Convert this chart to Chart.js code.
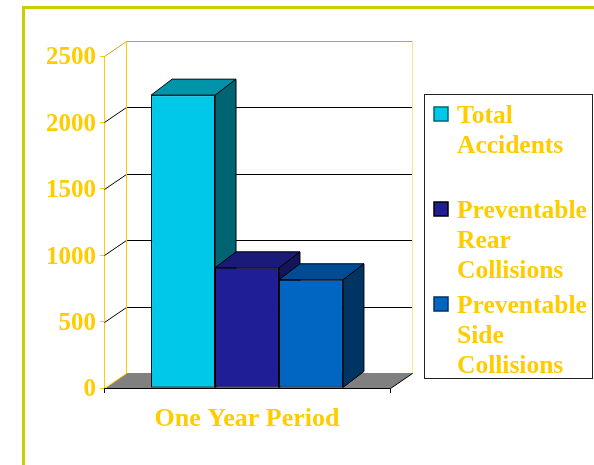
<!DOCTYPE html>
<html>
<head>
<meta charset="utf-8">
<script src="https://cdn.jsdelivr.net/npm/chart.js@4.4.0/dist/chart.umd.min.js"></script>
<style>
  html, body { margin: 0; padding: 0; background: #fff; }
</style>
</head>
<body>
<canvas id="myChart" width="594" height="465"></canvas>
<script>
var categories = ['One Year Period'];
var seriesNames = ['Total Accidents', 'Preventable Rear Collisions', 'Preventable Side Collisions'];
var totalAccidents = [2205];
var rearCollisions = [905];
var sideCollisions = [815];
var yTicks = [0, 500, 1000, 1500, 2000, 2500];

var frontColors = ['#00c8e8', '#201e96', '#0066c2'];
var topColors = ['#0094aa', '#1a1a78', '#004c94'];
var sideColors = ['#006472', '#14145a', '#003462'];
var swatchBorders = ['#006472', '#000000', '#003462'];
var gold = '#ffcc00';
var serif = "'Liberation Serif', 'Times New Roman', serif";

// 3d offsets: walls and bars
var wall = { dx: 22, dy: -15 };
var bar = { dx: 21, dy: -16 };

function line(ctx, pts, color) {
  ctx.strokeStyle = color;
  ctx.beginPath();
  ctx.moveTo(pts[0][0], pts[0][1]);
  for (var i = 1; i < pts.length; i++) ctx.lineTo(pts[i][0], pts[i][1]);
  ctx.stroke();
}
function poly(ctx, pts, fill, stroke) {
  ctx.beginPath();
  ctx.moveTo(pts[0][0], pts[0][1]);
  for (var i = 1; i < pts.length; i++) ctx.lineTo(pts[i][0], pts[i][1]);
  ctx.closePath();
  ctx.fillStyle = fill;
  ctx.fill();
  if (stroke) { ctx.strokeStyle = stroke; ctx.stroke(); }
}

var threeD = {
  id: 'threeD',
  beforeDatasetsDraw: function (chart) {
    var ctx = chart.ctx, a = chart.chartArea, ys = chart.scales.y;
    var L = a.left + 0.5, R = a.right + 0.5, T = Math.round(a.top) + 0.5, B = Math.round(a.bottom) + 0.5;
    var dx = wall.dx, dy = wall.dy;
    ctx.save();
    ctx.lineWidth = 1;
    // back wall gridlines and side wall diagonals
    yTicks.forEach(function (v) {
      if (v === ys.min || v === ys.max) return;
      var py = Math.round(ys.getPixelForValue(v)) + 0.5;
      line(ctx, [[L, py], [L + dx, py + dy], [R + dx, py + dy]], '#000');
    });
    // wall frame
    line(ctx, [[L, T], [L + dx, T + dy], [R + dx, T + dy]], '#c8a428');
    line(ctx, [[L + dx, T + dy], [L + dx, B + dy]], gold);
    line(ctx, [[R + dx, T + dy], [R + dx, B + dy]], '#ffe38a');
    // floor
    poly(ctx, [[L, B], [R, B], [R + dx, B + dy], [L + dx, B + dy]], '#808080');
    line(ctx, [[L + dx, B + dy], [R + dx, B + dy]], '#a08420');
    line(ctx, [[R, B], [R + dx, B + dy]], '#000');
    line(ctx, [[L, B], [L + dx, B + dy]], gold);
    // bar sides and tops
    chart.data.datasets.forEach(function (ds, i) {
      var el = chart.getDatasetMeta(i).data[0];
      var p = el.getProps(['x', 'y', 'base', 'width'], true);
      var l = p.x - p.width / 2, r = p.x + p.width / 2, t = p.y, b = p.base;
      poly(ctx, [[r, t], [r + bar.dx, t + bar.dy], [r + bar.dx, b + bar.dy], [r, b]], sideColors[i], '#000');
      poly(ctx, [[l, t], [l + bar.dx, t + bar.dy], [r + bar.dx, t + bar.dy], [r, t]], topColors[i], '#000');
    });
    ctx.restore();
  },
  afterDatasetsDraw: function (chart) {
    var ctx = chart.ctx, a = chart.chartArea;
    var B = Math.round(a.bottom) + 0.5;
    ctx.save();
    ctx.lineWidth = 1;
    line(ctx, [[a.left, B], [a.right, B]], '#000');
    ctx.restore();
  },
  afterDraw: function (chart) {
    var ctx = chart.ctx;
    ctx.save();
    // legend box
    var bx = 424.5, by = 94.5, bw = 168, bh = 284;
    ctx.fillStyle = '#fff';
    ctx.fillRect(bx, by, bw, bh);
    ctx.lineWidth = 1;
    ctx.strokeStyle = '#222';
    ctx.strokeRect(bx, by, bw, bh);
    ctx.font = 'bold 25.5px ' + serif;
    ctx.textBaseline = 'alphabetic';
    ctx.textAlign = 'left';
    var textX = 457, maxW = 134, lineH = 30, step = 95, base0 = 123;
    chart.data.datasets.forEach(function (ds, i) {
      var baseY = base0 + i * step;
      ctx.fillStyle = frontColors[i];
      ctx.fillRect(434, baseY - 16, 14, 14);
      ctx.strokeStyle = swatchBorders[i];
      ctx.lineWidth = 1.5;
      ctx.strokeRect(434, baseY - 16, 14, 14);
      // word wrap
      var words = ds.label.split(' '), lines = [], cur = '';
      words.forEach(function (w) {
        var test = cur ? cur + ' ' + w : w;
        if (ctx.measureText(test).width > maxW && cur) { lines.push(cur); cur = w; }
        else cur = test;
      });
      lines.push(cur);
      ctx.fillStyle = gold;
      lines.forEach(function (t, k) { ctx.fillText(t, textX, baseY + k * lineH); });
    });
    // outer frame
    ctx.strokeStyle = '#cccc00';
    ctx.lineWidth = 3;
    ctx.beginPath();
    ctx.moveTo(23.5, 465);
    ctx.lineTo(23.5, 7.5);
    ctx.lineTo(594, 7.5);
    ctx.stroke();
    ctx.restore();
  }
};

var series = [totalAccidents, rearCollisions, sideCollisions];

var ctx = document.getElementById('myChart').getContext('2d');
var myChart = new Chart(ctx, {
  type: 'bar',
  data: {
    labels: categories,
    datasets: series.map(function (vals, i) {
      return {
        label: seriesNames[i],
        data: vals,
        backgroundColor: frontColors[i],
        borderColor: '#000',
        borderWidth: 1,
        borderSkipped: false
      };
    })
  },
  options: {
    responsive: false,
    animation: false,
    layout: { padding: { left: 0, right: 204, top: 56, bottom: 0 } },
    datasets: { bar: { categoryPercentage: 0.671, barPercentage: 1 } },
    scales: {
      x: {
        grid: { color: '#000', drawOnChartArea: false, tickLength: 5 },
        border: { color: '#000' },
        ticks: { color: gold, font: { family: serif, size: 26, weight: 'bold' }, padding: 11 },
        afterFit: function (s) { s.height = 77; }
      },
      y: {
        min: 0,
        max: 2500,
        afterBuildTicks: function (s) { s.ticks = yTicks.map(function (v) { return { value: v }; }); },
        grid: { color: gold, drawOnChartArea: false, tickLength: 4 },
        border: { color: gold },
        ticks: {
          color: gold,
          font: { family: serif, size: 25, weight: 'bold' },
          padding: 4,
          labelOffset: 2,
          callback: function (v) { return String(v); }
        },
        afterFit: function (s) { s.width = 104; }
      }
    },
    plugins: {
      legend: { display: false },
      tooltip: { enabled: false }
    }
  },
  plugins: [threeD]
});
</script>
</body>
</html>
